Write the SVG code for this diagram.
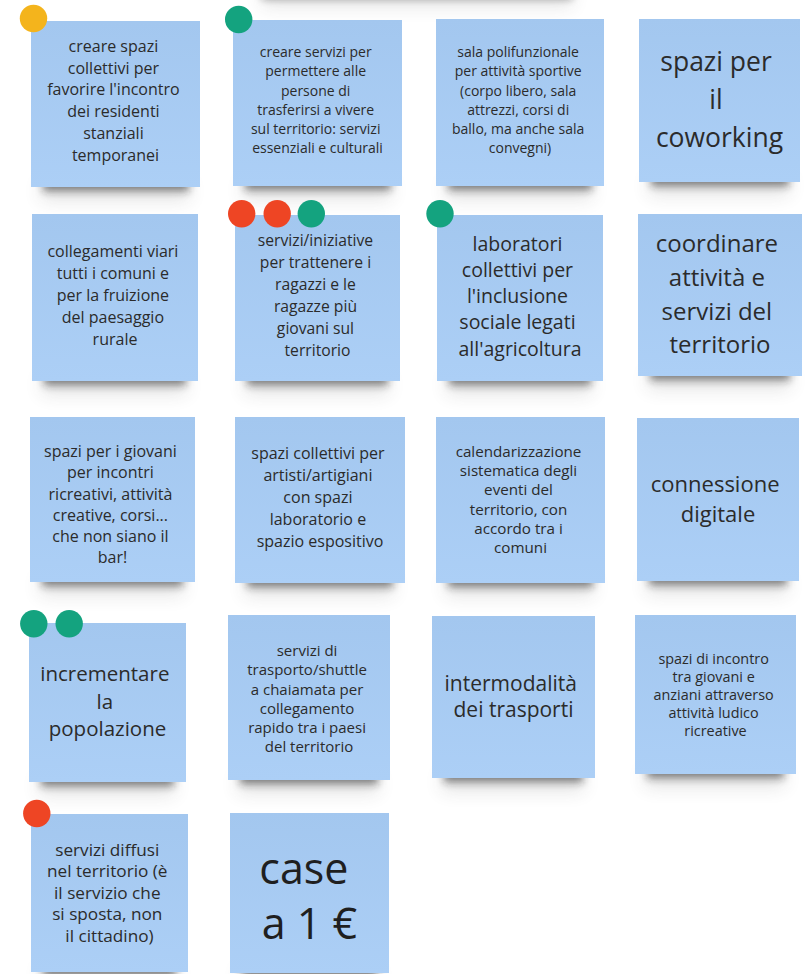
<svg xmlns="http://www.w3.org/2000/svg" width="808" height="974" viewBox="0 0 808 974">
  <defs>
    <linearGradient id="paper" x1="0" y1="0" x2="0" y2="1">
      <stop offset="0" stop-color="#a3c7ef"/>
      <stop offset="1" stop-color="#accff6"/>
    </linearGradient>
    <filter id="shadowNear" x="-20%" y="-200%" width="140%" height="500%">
      <feGaussianBlur stdDeviation="4"/>
    </filter>
    <filter id="shadowFar" x="-30%" y="-200%" width="160%" height="500%">
      <feGaussianBlur stdDeviation="9"/>
    </filter>
  </defs>
  <style>
    .note { fill: url(#paper); }
    .sh1 { fill: #1e1e1e; opacity: 0.55; filter: url(#shadowNear); }
    .sh2 { fill: #3a3a3a; opacity: 0.14; filter: url(#shadowFar); }
    .txt { font-family: "Open Sans", "Noto Sans", "DejaVu Sans", sans-serif; fill: #2b2b2b; text-anchor: middle; }
    .dark { fill: #1f1f1f; }
    .yellow { fill: #f4b41c; }
    .green { fill: #14a37f; }
    .red { fill: #ee4524; }
  </style>

  <rect width="808" height="974" fill="#ffffff"/>

  <!-- shadow of a note above the visible area -->
  <rect class="sh1" x="262" y="-16" width="310" height="14"/>
  <rect class="sh2" x="262" y="-10" width="310" height="16"/>

  <!-- row 1 -->
  <g id="note-spazi-collettivi">
    <rect class="sh2" x="41" y="182" width="148" height="18"/>
    <rect class="sh1" x="43" y="178" width="146" height="13"/>
    <rect class="note" x="31" y="21" width="169" height="166"/>
    <circle class="yellow" cx="33.5" cy="18.5" r="13.7"/>
    <text class="txt" font-size="16">
      <tspan x="115.5" y="52">creare spazi</tspan>
      <tspan x="115.5" y="73.7">collettivi per</tspan>
      <tspan x="115.5" y="95.4">favorire l'incontro</tspan>
      <tspan x="115.5" y="117.1">dei residenti</tspan>
      <tspan x="115.5" y="138.8">stanziali</tspan>
      <tspan x="115.5" y="160.5">temporanei</tspan>
    </text>
  </g>

  <g id="note-servizi-trasferirsi">
    <rect class="sh2" x="243" y="181" width="148" height="18"/>
    <rect class="sh1" x="245" y="177" width="146" height="13"/>
    <rect class="note" x="233" y="20" width="169" height="166"/>
    <circle class="green" cx="238.7" cy="19.5" r="13.7"/>
    <text class="txt" font-size="14">
      <tspan x="317.5" y="57.3">creare servizi per</tspan>
      <tspan x="317.5" y="76.4">permettere alle</tspan>
      <tspan x="317.5" y="95.5">persone di</tspan>
      <tspan x="317.5" y="114.6">trasferirsi a vivere</tspan>
      <tspan x="317.5" y="133.7">sul territorio: servizi</tspan>
      <tspan x="317.5" y="152.8">essenziali e culturali</tspan>
    </text>
  </g>

  <g id="note-sala-polifunzionale">
    <rect class="sh2" x="446" y="181" width="146" height="18"/>
    <rect class="sh1" x="448" y="177" width="144" height="13"/>
    <rect class="note" x="436" y="19" width="168" height="167"/>
    <text class="txt" font-size="14">
      <tspan x="520" y="57.3">sala polifunzionale</tspan>
      <tspan x="520" y="76.4">per attività sportive</tspan>
      <tspan x="520" y="95.5">(corpo libero, sala</tspan>
      <tspan x="520" y="114.6">attrezzi, corsi di</tspan>
      <tspan x="520" y="133.7">ballo, ma anche sala</tspan>
      <tspan x="520" y="152.8">convegni)</tspan>
    </text>
  </g>

  <g id="note-coworking">
    <rect class="sh2" x="649" y="177" width="140" height="18"/>
    <rect class="sh1" x="651" y="173" width="138" height="13"/>
    <rect class="note" x="639" y="19" width="161" height="163"/>
    <text class="txt" font-size="26.5">
      <tspan x="719.5" y="71">spazi per</tspan>
      <tspan x="719.5" y="108.5">il</tspan>
      <tspan x="719.5" y="146.5">coworking</tspan>
    </text>
  </g>

  <!-- row 2 -->
  <g id="note-collegamenti-viari">
    <rect class="sh2" x="42" y="376" width="144" height="18"/>
    <rect class="sh1" x="44" y="372" width="142" height="13"/>
    <rect class="note" x="32" y="214" width="166" height="167"/>
    <text class="txt" font-size="16">
      <tspan x="115" y="256.7">collegamenti viari</tspan>
      <tspan x="115" y="278.8">tutti i comuni e</tspan>
      <tspan x="115" y="300.9">per la fruizione</tspan>
      <tspan x="115" y="323">del paesaggio</tspan>
      <tspan x="115" y="345.1">rurale</tspan>
    </text>
  </g>

  <g id="note-trattenere-giovani">
    <rect class="sh2" x="245" y="376" width="143" height="18"/>
    <rect class="sh1" x="247" y="372" width="141" height="13"/>
    <rect class="note" x="235" y="215" width="165" height="166"/>
    <circle class="red" cx="241.7" cy="213.7" r="13.7"/>
    <circle class="red" cx="277.2" cy="213.7" r="13.7"/>
    <circle class="green" cx="311.3" cy="213.7" r="13.7"/>
    <text class="txt" font-size="15.7">
      <tspan x="317.5" y="246">servizi/iniziative</tspan>
      <tspan x="317.5" y="267.9">per trattenere i</tspan>
      <tspan x="317.5" y="289.8">ragazzi e le</tspan>
      <tspan x="317.5" y="311.7">ragazze più</tspan>
      <tspan x="317.5" y="333.6">giovani sul</tspan>
      <tspan x="317.5" y="355.5">territorio</tspan>
    </text>
  </g>

  <g id="note-laboratori-agricoltura">
    <rect class="sh2" x="447" y="376" width="144" height="18"/>
    <rect class="sh1" x="449" y="372" width="142" height="13"/>
    <rect class="note" x="437" y="215" width="166" height="166"/>
    <circle class="green" cx="440" cy="213.7" r="13.7"/>
    <text class="txt" font-size="19.5">
      <tspan x="520" y="250.7">laboratori</tspan>
      <tspan x="520" y="276.9">collettivi per</tspan>
      <tspan x="520" y="303.2">l'inclusione</tspan>
      <tspan x="520" y="329.4">sociale legati</tspan>
      <tspan x="520" y="355.7">all'agricoltura</tspan>
    </text>
  </g>

  <g id="note-coordinare">
    <rect class="sh2" x="648" y="371" width="142" height="18"/>
    <rect class="sh1" x="650" y="367" width="140" height="13"/>
    <rect class="note" x="638" y="214" width="164" height="162"/>
    <text class="txt" font-size="24">
      <tspan x="720" y="251.7">coordinare</tspan>
      <tspan x="720" y="285.6">attività e</tspan>
      <tspan x="720" y="319.5">servizi del</tspan>
      <tspan x="720" y="353.4">territorio</tspan>
    </text>
  </g>

  <!-- row 3 -->
  <g id="note-spazi-giovani">
    <rect class="sh2" x="40" y="577" width="143" height="18"/>
    <rect class="sh1" x="42" y="573" width="141" height="13"/>
    <rect class="note" x="30" y="417" width="165" height="165"/>
    <text class="txt" font-size="16">
      <tspan x="112.5" y="457.3">spazi per i giovani</tspan>
      <tspan x="112.5" y="478.4">per incontri</tspan>
      <tspan x="112.5" y="499.5">ricreativi, attività</tspan>
      <tspan x="112.5" y="520.6">creative, corsi...</tspan>
      <tspan x="112.5" y="541.7">che non siano il</tspan>
      <tspan x="112.5" y="562.8">bar!</tspan>
    </text>
  </g>

  <g id="note-artisti-artigiani">
    <rect class="sh2" x="245" y="578" width="148" height="18"/>
    <rect class="sh1" x="247" y="574" width="146" height="13"/>
    <rect class="note" x="235" y="417" width="170" height="166"/>
    <text class="txt" font-size="16">
      <tspan x="320" y="459.3">spazi collettivi per</tspan>
      <tspan x="320" y="481.1">artisti/artigiani</tspan>
      <tspan x="320" y="502.9">con spazi</tspan>
      <tspan x="320" y="524.7">laboratorio e</tspan>
      <tspan x="320" y="546.5">spazio espositivo</tspan>
    </text>
  </g>

  <g id="note-calendarizzazione">
    <rect class="sh2" x="446" y="578" width="147" height="18"/>
    <rect class="sh1" x="448" y="574" width="145" height="13"/>
    <rect class="note" x="436" y="417" width="169" height="166"/>
    <text class="txt" font-size="15.2">
      <tspan x="520.5" y="456.8">calendarizzazione</tspan>
      <tspan x="520.5" y="476.1">sistematica degli</tspan>
      <tspan x="520.5" y="495.4">eventi del</tspan>
      <tspan x="520.5" y="514.7">territorio, con</tspan>
      <tspan x="520.5" y="534">accordo tra i</tspan>
      <tspan x="520.5" y="553.3">comuni</tspan>
    </text>
  </g>

  <g id="note-connessione-digitale">
    <rect class="sh2" x="647" y="576" width="140" height="18"/>
    <rect class="sh1" x="649" y="572" width="138" height="13"/>
    <rect class="note" x="637" y="418" width="162" height="163"/>
    <text class="txt" font-size="22">
      <tspan x="718" y="491.7">connessione</tspan>
      <tspan x="718" y="521.7">digitale</tspan>
    </text>
  </g>

  <!-- row 4 -->
  <g id="note-incrementare-popolazione">
    <rect class="sh2" x="39" y="777" width="135" height="18"/>
    <rect class="sh1" x="41" y="773" width="133" height="13"/>
    <rect class="note" x="29" y="623" width="157" height="159"/>
    <circle class="green" cx="33.8" cy="623.8" r="13.7"/>
    <circle class="green" cx="69.2" cy="623.8" r="13.7"/>
    <text class="txt" font-size="20.5">
      <tspan x="107.5" y="681">incrementare</tspan>
      <tspan x="107.5" y="708.5">la</tspan>
      <tspan x="107.5" y="736">popolazione</tspan>
    </text>
  </g>

  <g id="note-trasporto-chiamata">
    <rect class="sh2" x="238" y="775" width="140" height="18"/>
    <rect class="sh1" x="240" y="771" width="138" height="13"/>
    <rect class="note" x="228" y="615" width="162" height="165"/>
    <text class="txt" font-size="15">
      <tspan x="309" y="656.2">servizi di</tspan>
      <tspan x="309" y="675.4">trasporto/shuttle</tspan>
      <tspan x="309" y="694.6">a chaiamata per</tspan>
      <tspan x="309" y="713.8">collegamento</tspan>
      <tspan x="309" y="733">rapido tra i paesi</tspan>
      <tspan x="309" y="752.2">del territorio</tspan>
    </text>
  </g>

  <g id="note-intermodalita">
    <rect class="sh2" x="442" y="773" width="141" height="18"/>
    <rect class="sh1" x="444" y="769" width="139" height="13"/>
    <rect class="note" x="432" y="616" width="163" height="162"/>
    <text class="txt" font-size="21">
      <tspan x="513.5" y="690.7">intermodalità</tspan>
      <tspan x="513.5" y="716.7">dei trasporti</tspan>
    </text>
  </g>

  <g id="note-giovani-anziani">
    <rect class="sh2" x="645" y="769" width="139" height="18"/>
    <rect class="sh1" x="647" y="765" width="137" height="13"/>
    <rect class="note" x="635" y="615" width="161" height="159"/>
    <text class="txt" font-size="14.4">
      <tspan x="715.5" y="663.9">spazi di incontro</tspan>
      <tspan x="715.5" y="682">tra giovani e</tspan>
      <tspan x="715.5" y="700.1">anziani attraverso</tspan>
      <tspan x="715.5" y="718.2">attività ludico</tspan>
      <tspan x="715.5" y="736.3">ricreative</tspan>
    </text>
  </g>

  <!-- row 5 -->
  <g id="note-servizi-diffusi">
    <rect class="sh2" x="41" y="967" width="135" height="18"/>
    <rect class="sh1" x="43" y="963" width="133" height="13"/>
    <rect class="note" x="31" y="814" width="157" height="158"/>
    <circle class="red" cx="36.8" cy="813.5" r="13.7"/>
    <text class="txt" font-size="17.2">
      <tspan x="109.5" y="855.6">servizi diffusi</tspan>
      <tspan x="109.5" y="877.2">nel territorio (è</tspan>
      <tspan x="109.5" y="898.8">il servizio che</tspan>
      <tspan x="109.5" y="920.4">si sposta, non</tspan>
      <tspan x="109.5" y="942">il cittadino)</tspan>
    </text>
  </g>

  <g id="note-case-un-euro">
    <rect class="sh2" x="240" y="968" width="137" height="18"/>
    <rect class="sh1" x="242" y="964" width="135" height="13"/>
    <rect class="note" x="230" y="813" width="159" height="160"/>
    <text class="txt dark" font-size="43">
      <tspan x="309.5" y="883.5">case</tspan>
      <tspan x="309.5" y="938.5">a 1 €</tspan>
    </text>
  </g>

  <!-- no connectors in this board -->
  <g id="connectors"/>
</svg>
